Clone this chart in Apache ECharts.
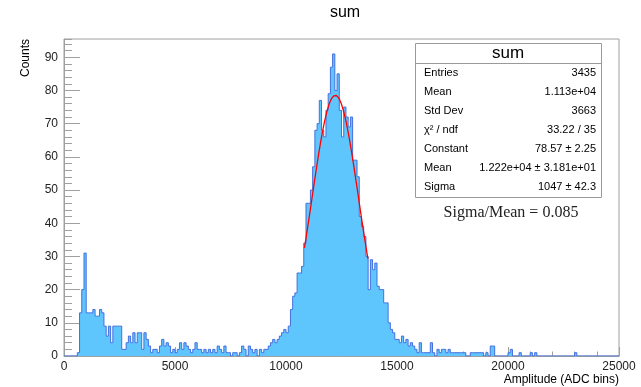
<!DOCTYPE html>
<html><head><meta charset="utf-8">
<script src="https://cdn.jsdelivr.net/npm/echarts@6/dist/echarts.min.js"></script>
<style>html,body{margin:0;padding:0;background:#fff}#c{width:641px;height:387px}</style>
</head><body><div id="c"></div>
<script>
// ---- data ----
const binWidth = 100;
const xMin = 0, xMax = 25000;
const yMax = 95.5;
const counts = [
  0,0,0,0,0,0,1,13,20,31, 13,13,13,14,12,12,14,13,9,6,
  9,4,9,9,9,9,2,2,4,6, 4,7,4,7,7,2,7,5,3,1,
  2,2,1,3,5,3,4,3,1,2, 1,2,4,2,4,3,2,1,2,4,
  2,2,1,2,1,2,1,2,1,3, 2,1,3,1,1,0,1,1,0,1,
  3,2,0,3,2,1,2,0,2,1, 2,2,3,4,5,4,5,6,7,8,
  7,9,14,18,19,25,25,27,34,46, 46,50,57,68,70,77,68,66,74,79,
  87,91,80,85,74,66,75,72,69,72, 59,59,54,42,39,36,30,20,29,26,
  28,21,20,20,16,16,10,8,7,5, 5,4,6,4,5,3,4,3,2,1,
  4,1,1,1,1,4,1,0,2,1, 2,2,1,2,1,1,1,1,1,1,
  1,0,0,1,1,1,1,1,1,0, 1,0,3,3,0,0,0,0,0,0,
  1,2,0,0,0,1,0,0,0,0, 1,0,1,0,0,0,0,0,0,0,
  0,0,0,0,0,0,0,0,0,0, 1,0,0,0,0,0,0,0,0,0,
  0,0,0,0,0,0,0,0,0,0
];
const xTicks = [0, 5000, 10000, 15000, 20000, 25000];
const yTicks = [0, 10, 20, 30, 40, 50, 60, 70, 80, 90];
const fitConstant = 78.57, fitMean = 12220, fitSigma = 1047;
const fitRange = [10830, 13700];
const titleText = 'sum';
const xTitle = 'Amplitude (ADC bins)';
const yTitle = 'Counts';
const statHeader = 'sum';
const statLabels = ['Entries', 'Mean', 'Std Dev', 'χ² / ndf', 'Constant', 'Mean', 'Sigma'];
const statValues = ['3435', '1.113e+04', '3663', '33.22 / 35', '78.57 ± 2.25', '1.222e+04 ± 3.181e+01', '1047 ± 42.3'];
const ratioText = 'Sigma/Mean = 0.085';

// ---- build ----
const histPts = counts.map((c, i) => [xMin + i * binWidth, c]);
histPts.push([xMin + counts.length * binWidth, counts[counts.length - 1]]);
const fitPts = [];
for (let x = fitRange[0]; x <= fitRange[1]; x += 20) {
  fitPts.push([x, fitConstant * Math.exp(-0.5 * Math.pow((x - fitMean) / fitSigma, 2))]);
}

const frameColor = '#a0a0a0';
const sans = 'Liberation Sans, Arial, sans-serif';
const G = {left: 64, right: 22, top: 39, bottom: 31};

const graphics = [];
graphics.push({type: 'text', x: 345, y: 13, style: {text: titleText, font: '16px ' + sans, fill: '#000', align: 'center', verticalAlign: 'middle', textAlign: 'center', textVerticalAlign: 'middle'}});
graphics.push({type: 'text', x: 619, y: 380, style: {text: xTitle, font: '12px ' + sans, fill: '#000', align: 'right', verticalAlign: 'middle', textAlign: 'right', textVerticalAlign: 'middle'}});
graphics.push({type: 'text', x: 26, y: 39, rotation: Math.PI / 2, style: {text: yTitle, font: '12px ' + sans, fill: '#000', align: 'right', verticalAlign: 'middle', textAlign: 'right', textVerticalAlign: 'middle'}});
const bx = 415, by = 43, bw = 186, bh = 154;
graphics.push({type: 'rect', z: 100, shape: {x: bx + 0.5, y: by + 0.5, width: bw, height: bh}, style: {fill: '#fff', stroke: '#9a9a9a', lineWidth: 1}});
graphics.push({type: 'line', z: 101, shape: {x1: bx, y1: 63.5, x2: bx + bw, y2: 63.5}, style: {stroke: '#9a9a9a', lineWidth: 1}});
graphics.push({type: 'text', z: 101, x: bx + bw / 2, y: 53, style: {text: statHeader, font: '17px ' + sans, fill: '#000', align: 'center', verticalAlign: 'middle', textAlign: 'center', textVerticalAlign: 'middle'}});
statLabels.forEach((lab, k) => {
  const yy = 73 + 19 * k;
  graphics.push({type: 'text', z: 101, x: 424, y: yy, style: {text: lab, font: '11px ' + sans, fill: '#000', align: 'left', verticalAlign: 'middle', textAlign: 'left', textVerticalAlign: 'middle'}});
  graphics.push({type: 'text', z: 101, x: 596, y: yy, style: {text: statValues[k], font: '11px ' + sans, fill: '#000', align: 'right', verticalAlign: 'middle', textAlign: 'right', textVerticalAlign: 'middle'}});
});
graphics.push({type: 'text', z: 101, x: 511, y: 213, style: {text: ratioText, font: '16px Liberation Serif, Times New Roman, serif', fill: '#222', align: 'center', verticalAlign: 'middle', textAlign: 'center', textVerticalAlign: 'middle'}});

const chart = echarts.init(document.getElementById('c'), null, {renderer: 'canvas'});
chart.setOption({
  animation: false,
  backgroundColor: '#fff',
  grid: [
    Object.assign({show: true, borderColor: frameColor, borderWidth: 1, backgroundColor: 'transparent'}, G),
    Object.assign({show: false}, G)
  ],
  xAxis: [
    {type: 'value', gridIndex: 0, min: xMin, max: xMax, interval: 5000,
     axisLine: {show: true, onZero: false, lineStyle: {color: frameColor}},
     axisTick: {show: true, inside: true, length: 9, lineStyle: {color: frameColor}},
     minorTick: {show: true, splitNumber: 5, length: 4.5, lineStyle: {color: frameColor}},
     axisLabel: {show: true, margin: 5, color: '#222', fontSize: 12, fontFamily: sans, customValues: xTicks,
                 formatter: v => String(v)},
     splitLine: {show: false}},
    {type: 'value', gridIndex: 1, min: xMin, max: xMax, show: false}
  ],
  yAxis: [
    {type: 'value', gridIndex: 0, min: 0, max: yMax,
     axisLine: {show: true, onZero: false, lineStyle: {color: frameColor}},
     axisTick: {show: true, inside: true, length: 16, customValues: yTicks, lineStyle: {color: frameColor}},
     axisLabel: {show: true, margin: 6, color: '#222', fontSize: 12, fontFamily: sans, customValues: yTicks,
                 formatter: v => String(v)},
     splitLine: {show: false}},
    {type: 'value', gridIndex: 1, min: 0, max: yMax, interval: 2,
     axisLine: {show: false},
     axisTick: {show: true, inside: true, length: 8, lineStyle: {color: frameColor}},
     axisLabel: {show: false},
     splitLine: {show: false}}
  ],
  series: [
    {type: 'line', xAxisIndex: 0, yAxisIndex: 0, step: 'end', data: histPts, symbol: 'none',
     lineStyle: {color: '#4470e0', width: 1},
     areaStyle: {color: '#5ec6fd', opacity: 1}, z: 2},
    {type: 'line', xAxisIndex: 0, yAxisIndex: 0, data: fitPts, symbol: 'none', smooth: false,
     lineStyle: {color: '#ff0000', width: 1.3}, z: 3}
  ],
  graphic: graphics
});
</script>
</body></html>
